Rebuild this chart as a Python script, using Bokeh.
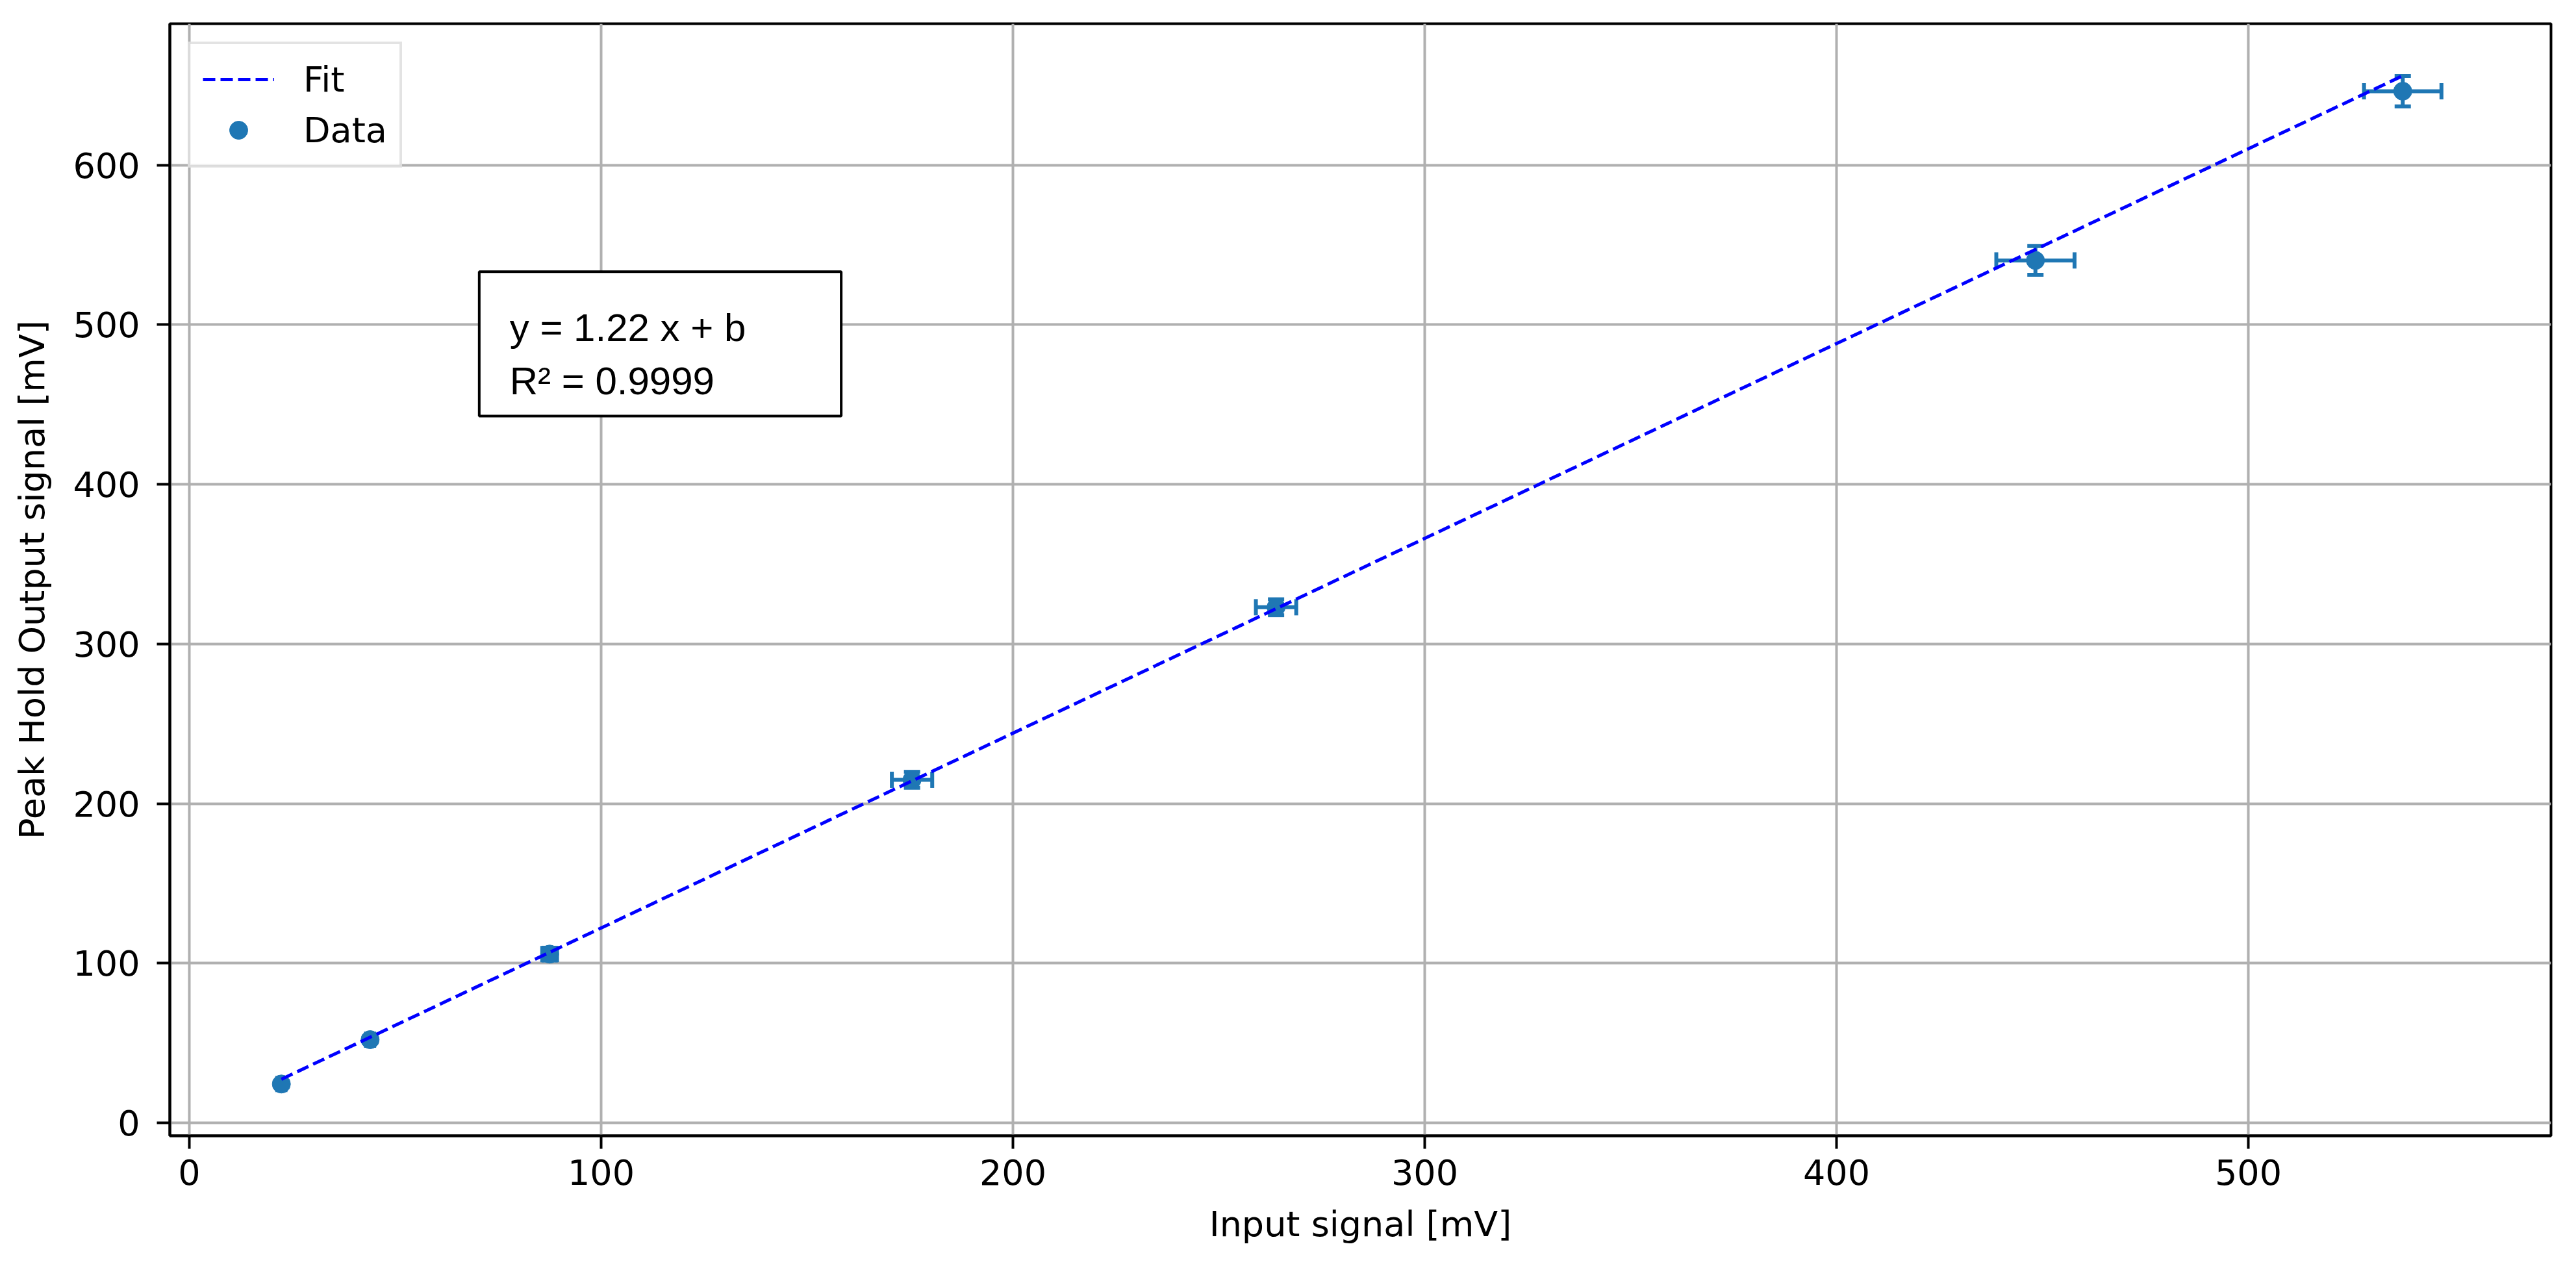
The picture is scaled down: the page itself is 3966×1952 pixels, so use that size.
import numpy as np
from bokeh.plotting import figure
from bokeh.models import (Range1d, SingleIntervalTicker, Legend, LegendItem,
                          BoxAnnotation, Label, ColumnDataSource)
from bokeh.embed import file_html
from bokeh.resources import INLINE

# ---- data ----
input_mv = [22.35, 43.9, 87.5, 175.5, 263.9, 448.3, 537.5]
output_mv = [24.3, 52.1, 105.7, 214.9, 323.0, 540.3, 646.3]
input_err = [1.0, 1.0, 1.8, 4.9, 4.9, 9.5, 9.4]
output_err = [2.0, 2.0, 4.0, 5.0, 5.0, 9.0, 9.5]

fit_x = [22.35, 537.5]
fit_y = [27.3, 656.0]

fit_text = "y = 1.22 x + b"
r2_text = "R\u00b2 = 0.9999"

BLUE = "#1f77b4"
FONT = "DejaVu Sans"
FS = "54px"

x = np.array(input_mv)
y = np.array(output_mv)
xe = np.array(input_err)
ye = np.array(output_err)

src = ColumnDataSource(dict(
    x=x, y=y,
    xl=x - xe, xr=x + xe,
    yl=y - ye, yu=y + ye,
))

W, H = 3950, 1936
FL, FT, FR, FB = 261, 36, 3927, 1748   # frame edges in page pixels
p = figure(width=W, height=H, output_backend="svg", toolbar_location=None,
           x_range=Range1d(-4.73, 573.5), y_range=Range1d(-8.14, 688.6),
           min_border_left=FL, min_border_right=W - FR,
           min_border_top=FT, min_border_bottom=H - FB)
p.background_fill_color = "white"
p.border_fill_color = "white"
p.outline_line_color = "black"
p.outline_line_width = 4

# ticks / grid
xt = SingleIntervalTicker(interval=100, num_minor_ticks=0)
yt = SingleIntervalTicker(interval=100, num_minor_ticks=0)
p.xaxis.ticker = xt
p.yaxis.ticker = yt
p.xgrid.ticker = xt
p.ygrid.ticker = yt
for g in (p.xgrid, p.ygrid):
    g.grid_line_color = "#b0b0b0"
    g.grid_line_width = 4

for ax in (p.xaxis, p.yaxis):
    ax.axis_line_color = "black"
    ax.axis_line_width = 4
    ax.major_tick_line_color = "black"
    ax.major_tick_line_width = 4
    ax.major_tick_in = 0
    ax.major_tick_out = 20
    ax.minor_tick_line_color = None
    ax.major_label_text_font = FONT
    ax.major_label_text_font_size = FS
    ax.major_label_text_color = "black"
    ax.axis_label_text_font = FONT
    ax.axis_label_text_font_size = FS
    ax.axis_label_text_font_style = "normal"
    ax.axis_label_text_color = "black"

p.xaxis.axis_label = "Input signal [mV]"
p.yaxis.axis_label = "Peak Hold Output signal [mV]"
p.xaxis.major_label_standoff = 16
p.xaxis.axis_label_standoff = 26
p.yaxis.major_label_standoff = 26
p.yaxis.axis_label_standoff = 28

# error bars
p.segment(x0="xl", y0="y", x1="xr", y1="y", source=src, line_color=BLUE, line_width=6)
p.segment(x0="x", y0="yl", x1="x", y1="yu", source=src, line_color=BLUE, line_width=6)
# caps
p.scatter(x="xl", y="y", source=src, marker="dash", size=25, angle=np.pi / 2,
          line_color=BLUE, line_width=6)
p.scatter(x="xr", y="y", source=src, marker="dash", size=25, angle=np.pi / 2,
          line_color=BLUE, line_width=6)
p.scatter(x="x", y="yl", source=src, marker="dash", size=25,
          line_color=BLUE, line_width=6)
p.scatter(x="x", y="yu", source=src, marker="dash", size=25,
          line_color=BLUE, line_width=6)
# markers
pts = p.scatter(x="x", y="y", source=src, marker="circle", size=28,
                fill_color=BLUE, line_color=BLUE, line_width=1)

# fit line
fit = p.line(fit_x, fit_y, line_color="#0000ff", line_width=5, line_dash="19 8")

# legend
legend = Legend(items=[LegendItem(label="Fit", renderers=[fit]),
                       LegendItem(label="Data", renderers=[pts])],
                location="top_left", margin=28, padding=19, spacing=8,
                glyph_width=110, glyph_height=70, label_height=70,
                label_standoff=45,
                label_text_font=FONT, label_text_font_size=FS,
                label_text_color="black",
                border_line_color="#c8c8c8", border_line_width=4,
                background_fill_color="white", background_fill_alpha=0.8)
p.add_layout(legend)

# fit annotation box
box = BoxAnnotation(left=70.4, right=158.3, bottom=442.8, top=533.2,
                    fill_color="white", fill_alpha=1.0,
                    line_color="black", line_width=4, line_alpha=1.0)
p.add_layout(box)
p.add_layout(Label(x=77.8, y=498.3, text=fit_text, text_font="Liberation Sans",
                   text_font_size="60px", text_color="black",
                   text_baseline="alphabetic"))
p.add_layout(Label(x=77.8, y=464.9, text=r2_text, text_font="Liberation Sans",
                   text_font_size="60px", text_color="black",
                   text_baseline="alphabetic"))

open("out.html", "w").write(file_html(p, INLINE))
